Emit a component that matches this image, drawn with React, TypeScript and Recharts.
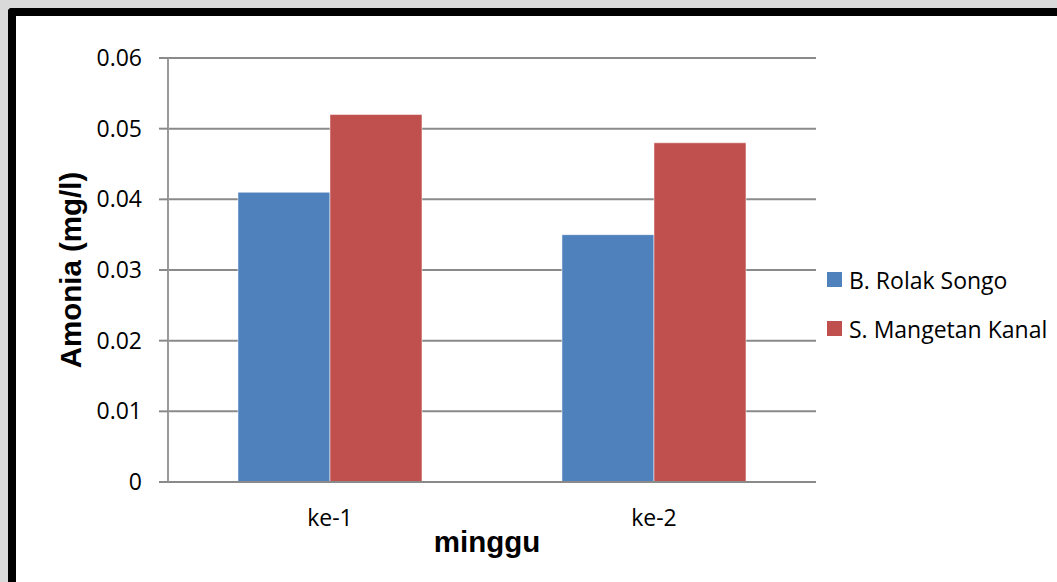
import { BarChart, Bar, XAxis, YAxis, CartesianGrid, Legend, Label } from "recharts";

const weeks = ["ke-1", "ke-2"];
const rolakSongo = [0.041, 0.035];
const mangetanKanal = [0.052, 0.048];
const yTicks = [0, 0.01, 0.02, 0.03, 0.04, 0.05, 0.06];

const seriesInfo = [
  { key: "rolak", name: "B. Rolak Songo", color: "#4f81bd" },
  { key: "mangetan", name: "S. Mangetan Kanal", color: "#c0504d" },
];

const data = weeks.map((w, i) => ({
  week: w,
  rolak: rolakSongo[i],
  mangetan: mangetanKanal[i],
}));

const tickFont = { fontFamily: "'Open Sans', sans-serif", fontSize: 23, fill: "#000" };
const titleFont = { fontFamily: "'Liberation Sans', Arial, sans-serif", fontSize: 29.5, fontWeight: 700, fill: "#000" };
const gridColor = "#8a8a8a";

function LegendBox({ payload }: any) {
  return (
    <div style={{ fontFamily: "'Open Sans', sans-serif", fontSize: 23, color: "#000", whiteSpace: "nowrap" }}>
      {(payload || []).map((p: any) => (
        <div key={p.value} style={{ display: "flex", alignItems: "center", height: 49 }}>
          <span style={{ display: "inline-block", width: 15, height: 15, background: p.color, marginRight: 7 }} />
          <span>{p.value}</span>
        </div>
      ))}
    </div>
  );
}

export default function App() {
  return (
    <div style={{ position: "fixed", left: 0, top: 0, width: 1057, height: 582, background: "#d9d9d9", overflow: "hidden" }}>
      <div
        style={{
          position: "absolute",
          left: 8,
          top: 8,
          width: 1049,
          height: 574,
          boxSizing: "border-box",
          background: "#fff",
          borderTop: "8px solid #000",
          borderLeft: "8px solid #000",
          borderRight: "none",
          borderTopLeftRadius: 4,
        }}
      />
      <div style={{ position: "absolute", left: 0, top: 0 }}>
        <BarChart
          width={1057}
          height={582}
          data={data}
          margin={{ top: 58, right: 11, bottom: 0, left: 16 }}
          barCategoryGap="21.6%"
          barGap={0}
        >
          <CartesianGrid vertical={false} stroke={gridColor} strokeWidth={2} />
          <XAxis
            dataKey="week"
            height={100}
            tickLine={false}
            tickSize={0}
            tickMargin={28}
            axisLine={{ stroke: gridColor, strokeWidth: 2 }}
            tick={tickFont}
          >
            <Label value="minggu" position="insideBottom" offset={30} dx={-5} style={titleFont} />
          </XAxis>
          <YAxis
            width={152}
            domain={[0, 0.06]}
            ticks={yTicks}
            interval={0}
            tickSize={9}
            tickMargin={17}
            tickFormatter={(v: number) => String(v)}
            tickLine={{ stroke: gridColor, strokeWidth: 2 }}
            axisLine={{ stroke: "#9a9a9a", strokeWidth: 2 }}
            tick={tickFont}
          >
            <Label
              value="Amonia (mg/l)"
              angle={-90}
              position="insideLeft"
              offset={55}
              style={{ ...titleFont, textAnchor: "middle" }}
            />
          </YAxis>
          <Legend
            layout="vertical"
            align="right"
            verticalAlign="top"
            content={<LegendBox />}
            wrapperStyle={{ position: "absolute", left: 827, top: 255, width: 230 }}
          />
          {seriesInfo.map((s) => (
            <Bar
              key={s.key}
              dataKey={s.key}
              name={s.name}
              fill={s.color}
              stroke="#ffffff"
              strokeOpacity={0.5}
              strokeWidth={1}
              isAnimationActive={false}
            />
          ))}
        </BarChart>
      </div>
    </div>
  );
}
